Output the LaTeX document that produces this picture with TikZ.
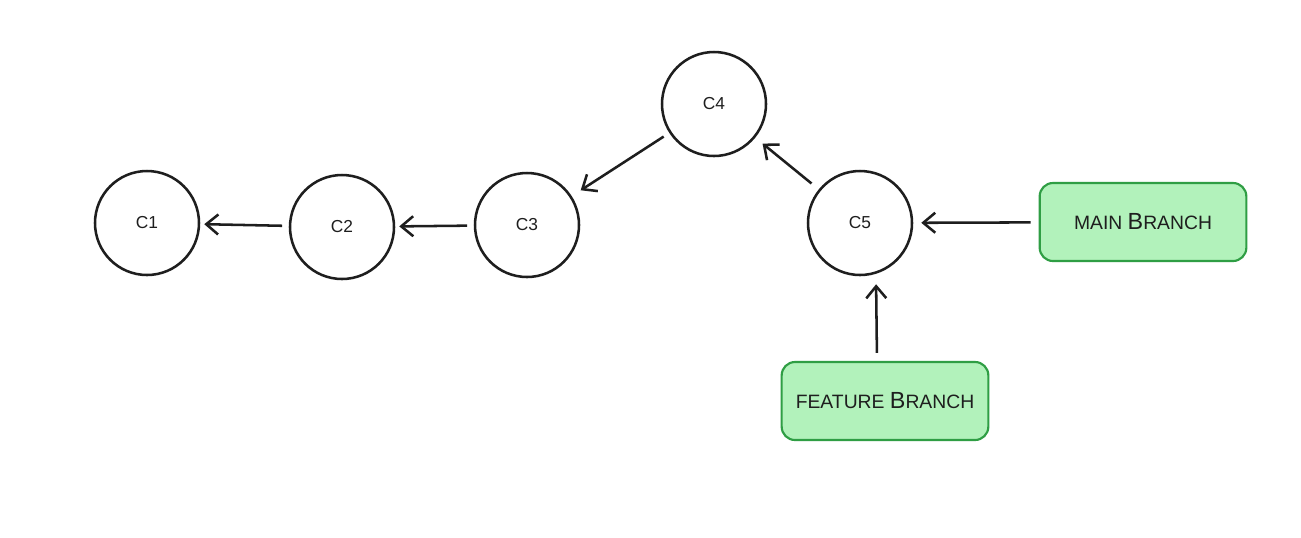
\documentclass[tikz,border=0pt]{standalone}
\usepackage{fontspec}
\setmainfont{Liberation Sans}
\usetikzlibrary{arrows.meta}
\definecolor{ink}{HTML}{1E1E1E}
\definecolor{gfill}{HTML}{B2F2BB}
\definecolor{gline}{HTML}{2F9E44}
\newcommand{\initcap}[1]{{\fontsize{17.5}{19}\selectfont #1}}
\begin{document}
\begin{tikzpicture}[x=0.75pt,y=-0.75pt,
  commit/.style={circle,draw=ink,line width=1.9pt,minimum size=78pt,inner sep=0pt,
    font=\fontsize{13}{15}\selectfont,text=ink},
  branch/.style={rectangle,rounded corners=10pt,draw=gline,fill=gfill,line width=1.6pt,
    minimum height=58.5pt,minimum width=155pt,inner sep=0pt,
    font=\fontsize{14.5}{16}\selectfont,text=ink},
  link/.style={draw=ink,line width=1.9pt,-{Straight Barb[length=9pt,width=15pt]},
    shorten <=5pt,shorten >=3pt}]
\fill[white] (0,0) rectangle (1301,537);
\useasboundingbox (0,0) rectangle (1301,537);
\node[commit] (c1) at (147,223) {C1};
\node[commit] (c2) at (342,227) {C2};
\node[commit] (c3) at (527,225) {C3};
\node[commit] (c4) at (714,104) {C4};
\node[commit] (c5) at (860,223) {C5};
\node[branch] (mainb) at (1143,222) {MAIN \initcap{B}RANCH};
\node[branch] (feat) at (885,401) {FEATURE \initcap{B}RANCH};
\draw[link] (c2) -- (c1);
\draw[link] (c3) -- (c2);
\draw[link, shorten >=8pt] (c4) -- (c3);
\draw[link, shorten <=7pt, shorten >=7pt] (c5) -- (c4);
\draw[link, shorten <=6pt, shorten >=6pt] (mainb) -- (c5);
\draw[link, shorten <=6pt, shorten >=6pt] ([xshift=-6pt]feat.north) -- ([xshift=12pt]c5.south);
\end{tikzpicture}
\end{document}
